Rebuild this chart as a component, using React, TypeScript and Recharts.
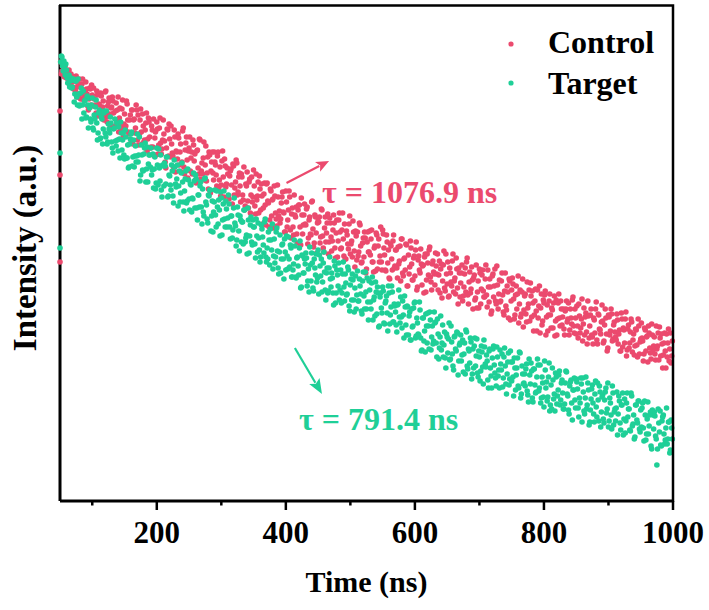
import React from 'react';
import { ScatterChart, Scatter, XAxis, YAxis, ReferenceLine, Legend } from 'recharts';

// Time bins (ns), odd channels
const timeNsA = [
  51,53,55,57,59,61,63,65,67,69,71,73,75,77,79,81,83,85,87,89,
  91,93,95,97,99,101,103,105,107,109,111,113,115,117,119,121,123,125,127,129,
  131,133,135,137,139,141,143,145,147,149,151,153,155,157,159,161,163,165,167,169,
  171,173,175,177,179,181,183,185,187,189,191,193,195,197,199,201,203,205,207,209,
  211,213,215,217,219,221,223,225,227,229,231,233,235,237,239,241,243,245,247,249,
  251,253,255,257,259,261,263,265,267,269,271,273,275,277,279,281,283,285,287,289,
  291,293,295,297,299,301,303,305,307,309,311,313,315,317,319,321,323,325,327,329,
  331,333,335,337,339,341,343,345,347,349,351,353,355,357,359,361,363,365,367,369,
  371,373,375,377,379,381,383,385,387,389,391,393,395,397,399,401,403,405,407,409,
  411,413,415,417,419,421,423,425,427,429,431,433,435,437,439,441,443,445,447,449,
  451,453,455,457,459,461,463,465,467,469,471,473,475,477,479,481,483,485,487,489,
  491,493,495,497,499,501,503,505,507,509,511,513,515,517,519,521,523,525,527,529,
  531,533,535,537,539,541,543,545,547,549,551,553,555,557,559,561,563,565,567,569,
  571,573,575,577,579,581,583,585,587,589,591,593,595,597,599,601,603,605,607,609,
  611,613,615,617,619,621,623,625,627,629,631,633,635,637,639,641,643,645,647,649,
  651,653,655,657,659,661,663,665,667,669,671,673,675,677,679,681,683,685,687,689,
  691,693,695,697,699,701,703,705,707,709,711,713,715,717,719,721,723,725,727,729,
  731,733,735,737,739,741,743,745,747,749,751,753,755,757,759,761,763,765,767,769,
  771,773,775,777,779,781,783,785,787,789,791,793,795,797,799,801,803,805,807,809,
  811,813,815,817,819,821,823,825,827,829,831,833,835,837,839,841,843,845,847,849,
  851,853,855,857,859,861,863,865,867,869,871,873,875,877,879,881,883,885,887,889,
  891,893,895,897,899,901,903,905,907,909,911,913,915,917,919,921,923,925,927,929,
  931,933,935,937,939,941,943,945,947,949,951,953,955,957,959,961,963,965,967,969,
  971,973,975,977,979,981,983,985,987,989,991,993,995,997,999,
];

// Time bins (ns), even channels
const timeNsB = [
  52,54,56,58,60,62,64,66,68,70,72,74,76,78,80,82,84,86,88,90,
  92,94,96,98,100,102,104,106,108,110,112,114,116,118,120,122,124,126,128,130,
  132,134,136,138,140,142,144,146,148,150,152,154,156,158,160,162,164,166,168,170,
  172,174,176,178,180,182,184,186,188,190,192,194,196,198,200,202,204,206,208,210,
  212,214,216,218,220,222,224,226,228,230,232,234,236,238,240,242,244,246,248,250,
  252,254,256,258,260,262,264,266,268,270,272,274,276,278,280,282,284,286,288,290,
  292,294,296,298,300,302,304,306,308,310,312,314,316,318,320,322,324,326,328,330,
  332,334,336,338,340,342,344,346,348,350,352,354,356,358,360,362,364,366,368,370,
  372,374,376,378,380,382,384,386,388,390,392,394,396,398,400,402,404,406,408,410,
  412,414,416,418,420,422,424,426,428,430,432,434,436,438,440,442,444,446,448,450,
  452,454,456,458,460,462,464,466,468,470,472,474,476,478,480,482,484,486,488,490,
  492,494,496,498,500,502,504,506,508,510,512,514,516,518,520,522,524,526,528,530,
  532,534,536,538,540,542,544,546,548,550,552,554,556,558,560,562,564,566,568,570,
  572,574,576,578,580,582,584,586,588,590,592,594,596,598,600,602,604,606,608,610,
  612,614,616,618,620,622,624,626,628,630,632,634,636,638,640,642,644,646,648,650,
  652,654,656,658,660,662,664,666,668,670,672,674,676,678,680,682,684,686,688,690,
  692,694,696,698,700,702,704,706,708,710,712,714,716,718,720,722,724,726,728,730,
  732,734,736,738,740,742,744,746,748,750,752,754,756,758,760,762,764,766,768,770,
  772,774,776,778,780,782,784,786,788,790,792,794,796,798,800,802,804,806,808,810,
  812,814,816,818,820,822,824,826,828,830,832,834,836,838,840,842,844,846,848,850,
  852,854,856,858,860,862,864,866,868,870,872,874,876,878,880,882,884,886,888,890,
  892,894,896,898,900,902,904,906,908,910,912,914,916,918,920,922,924,926,928,930,
  932,934,936,938,940,942,944,946,948,950,952,954,956,958,960,962,964,966,968,970,
  972,974,976,978,980,982,984,986,988,990,992,994,996,998,
];

// Control intensity (a.u., log display units), odd channels
const controlIntensityA = [
  439,430,438,424,429,423,428,416,427,419,412,420,425,414,404,417,407,422,401,409,
  412,395,402,412,416,395,402,395,410,385,396,408,386,400,388,410,379,399,387,393,
  404,388,375,398,391,369,393,375,401,377,373,400,381,367,386,391,357,382,373,391,
  386,367,392,357,375,361,378,350,383,364,354,371,382,363,346,372,356,383,347,361,
  367,339,353,371,377,344,357,345,371,329,349,367,336,357,339,373,327,358,341,350,
  364,343,327,356,347,318,351,327,361,330,327,359,336,320,344,349,308,339,328,349,
  336,315,349,321,305,340,324,342,314,333,305,325,332,297,335,313,341,306,324,315,
  327,306,334,295,315,300,319,288,324,304,315,287,301,319,325,291,305,293,318,276,
  318,298,281,310,301,273,305,282,316,285,278,298,309,288,269,299,281,310,271,287,
  274,306,284,267,291,296,256,286,276,297,276,294,263,284,266,300,254,286,268,278,
  279,258,292,265,249,284,268,287,259,278,250,271,278,243,281,260,288,252,271,262,
  277,242,266,252,285,257,244,269,234,265,269,249,276,238,258,244,263,232,269,249,
  246,271,239,253,230,266,255,239,274,231,267,246,230,259,251,222,255,231,266,235,
  251,223,237,255,262,228,242,231,256,215,227,260,237,221,245,251,211,241,231,252,
  216,236,244,209,247,226,254,219,237,229,216,235,247,226,208,237,220,250,210,227,
  239,205,228,215,247,220,207,232,197,228,218,236,205,227,209,243,197,229,212,221,
  223,201,236,209,193,228,212,231,204,222,206,231,199,214,190,227,215,200,235,192,
  221,200,228,189,210,195,215,183,220,200,223,202,186,215,207,178,211,187,222,191,
  207,179,193,211,218,184,198,186,212,170,183,215,193,176,201,206,166,196,186,207,
  173,191,198,165,201,182,207,175,192,184,172,190,200,182,166,192,177,204,168,183,
  195,163,185,173,202,177,166,188,157,185,175,192,164,183,168,199,157,186,171,179,
  180,160,192,167,153,184,170,187,162,179,164,187,157,171,150,182,173,158,189,151,
  176,158,182,149,167,155,171,144,175,159,178,160,147,171,164,139,168,148,177,151,
  164,141,152,168,174,145,157,146,168,133,144,172,152,138,160,
];

// Control intensity, even channels
const controlIntensityB = [
  427,435,429,435,423,426,431,419,425,414,423,410,404,417,422,402,417,407,403,419,
  407,391,413,396,406,413,396,388,406,397,391,405,394,381,409,384,395,403,375,394,
  400,373,390,380,404,383,372,392,364,387,375,397,369,381,361,391,381,368,396,361,
  356,381,369,387,359,371,388,362,379,353,375,354,345,369,379,347,373,358,352,381,
  360,333,372,345,362,375,348,334,364,350,342,363,349,329,370,334,351,364,323,353,
  330,349,361,340,321,350,333,362,322,338,343,321,355,328,312,346,330,349,321,339,
  326,345,313,334,316,350,304,335,317,327,302,330,316,337,306,319,338,309,328,299,
  324,301,291,317,329,293,322,306,299,331,295,327,305,288,312,317,277,307,296,317,
  300,274,312,285,302,315,288,275,304,290,282,304,289,269,310,274,291,304,263,293,
  266,286,294,258,296,274,303,267,286,277,292,257,281,267,299,272,258,284,248,280,
  284,264,291,253,273,259,278,247,283,264,260,286,253,268,244,281,269,253,288,245,
  242,270,257,277,247,260,280,250,270,241,245,278,255,239,263,269,228,259,249,270,
  262,239,229,255,268,232,262,245,239,271,253,231,266,238,223,257,242,260,233,251,
  233,254,240,220,262,225,243,257,215,246,234,253,221,243,225,259,214,245,228,237,
  235,208,247,221,238,251,224,211,240,227,248,227,211,240,232,203,236,213,247,217,
  204,233,219,240,209,223,243,213,233,204,228,200,214,233,239,206,219,208,234,192,
  226,203,193,220,232,197,226,210,204,236,194,214,222,187,225,204,232,197,216,207,
  199,220,206,186,228,191,209,222,181,211,217,182,206,192,225,197,184,209,174,205,
  187,219,197,180,205,210,170,200,190,211,195,168,207,180,198,210,184,170,200,186,
  193,173,205,180,166,198,183,200,176,192,166,192,179,198,171,183,201,175,192,167,
  175,197,168,182,160,193,184,169,200,163,186,166,157,181,192,161,187,172,167,196,
  158,176,183,150,186,166,192,160,176,169,161,181,167,150,188,154,171,182,145,172,
  153,169,179,161,146,172,156,182,147,162,163,140,173,150,165,175,153,142,166,155,
  147,175,155,141,163,167,133,158,150,167,158,140,168,145,
];

// Target intensity (a.u., log display units), odd channels
const targetIntensityA = [
  439,444,430,435,437,423,425,414,423,414,422,407,420,396,407,396,413,396,388,401,
  384,396,403,382,396,373,386,394,378,368,391,363,382,372,390,364,357,377,368,378,
  353,372,382,355,361,374,343,368,361,346,371,343,356,334,362,369,344,334,355,345,
  339,364,326,346,330,353,319,354,337,346,353,331,313,344,318,336,352,320,311,336,
  315,335,344,304,326,316,336,305,341,317,322,295,330,308,338,299,310,330,300,321,
  291,316,303,328,293,322,281,306,315,294,312,285,323,296,278,305,311,285,269,299,
  286,310,277,291,309,266,297,282,300,274,306,274,285,263,293,278,255,294,270,285,
  259,279,291,259,266,293,248,276,259,281,274,243,265,278,251,244,272,256,279,244,
  253,269,236,261,277,245,238,269,250,227,266,242,257,222,249,265,232,242,256,224,
  231,261,224,243,235,253,213,246,228,242,248,215,232,254,220,238,210,233,247,223,
  207,235,242,219,249,211,228,208,233,222,228,208,240,198,231,215,201,231,208,239,
  200,218,207,231,190,222,227,201,213,192,230,200,215,190,220,205,229,192,199,220,
  199,218,181,204,219,187,208,175,208,188,210,177,200,188,215,177,194,209,179,195,
  176,196,211,178,184,200,163,194,166,194,185,161,192,175,198,163,183,167,199,163,
  151,183,170,187,158,175,189,151,175,160,178,158,182,142,164,151,176,156,143,167,
  148,178,142,159,135,164,152,169,126,156,166,146,129,158,171,135,152,138,159,127,
  133,163,145,128,150,120,155,134,161,137,146,121,150,133,113,152,136,123,154,125,
  113,137,147,123,153,117,127,148,122,139,139,105,133,126,143,113,148,107,127,118,
  115,137,106,142,117,130,99,132,108,124,136,113,98,124,104,140,113,100,124,90,
  116,133,102,90,124,105,126,96,118,108,92,118,129,105,87,119,98,111,123,93,
  119,93,103,123,79,109,87,124,96,111,79,102,116,87,107,94,118,80,109,89,
  106,78,109,88,118,80,98,72,108,89,80,109,87,100,71,96,66,102,80,108,
  92,71,108,75,86,64,96,78,100,69,74,98,60,86,67,99,75,89,52,86,
  89,65,36,92,69,56,80,86,57,73,57,79,48,81,62,
];

// Target intensity, even channels
const targetIntensityB = [
  445,435,440,426,431,418,426,420,413,421,399,420,404,422,395,408,382,410,400,383,
  405,373,393,379,403,371,382,401,361,388,362,384,357,388,368,390,359,372,384,359,
  348,373,360,378,350,362,379,351,368,342,364,343,333,357,367,335,361,345,339,367,
  346,320,356,331,347,358,332,319,346,334,326,347,332,312,353,316,333,346,304,335,
  338,317,344,305,325,311,330,298,334,314,336,315,299,328,319,290,322,298,332,302,
  317,289,302,320,326,293,306,294,319,277,289,322,299,282,306,311,270,300,289,311,
  274,294,301,265,303,281,310,274,292,283,297,262,285,271,303,275,261,286,250,281,
  279,257,291,263,247,281,265,284,256,274,257,282,249,263,239,276,264,248,282,239,
  242,261,272,251,232,262,244,273,233,249,228,256,242,262,231,245,264,234,253,224,
  237,255,223,244,226,260,214,245,228,237,243,220,209,236,248,213,242,226,219,251,
  246,225,209,238,229,201,233,210,244,214,223,196,235,208,226,238,211,198,227,214,
  227,206,234,195,216,201,221,189,225,206,200,222,207,187,229,192,209,223,181,211,
  192,224,201,185,209,214,174,204,193,214,178,198,205,170,208,186,215,179,197,189,
  169,197,184,204,173,186,205,176,195,166,189,161,174,193,199,165,178,166,191,150,
  183,160,149,175,188,152,181,164,157,189,179,144,167,153,185,158,144,169,133,164,
  162,141,175,147,131,165,150,168,140,158,140,161,147,127,169,132,150,163,122,152,
  155,135,162,124,144,130,149,117,154,134,140,113,152,125,143,155,128,115,144,131,
  151,131,114,144,135,107,139,116,150,120,124,143,111,133,115,149,103,135,117,127,
  132,110,99,126,138,103,132,116,109,142,110,136,103,118,94,131,119,104,138,96,
  92,121,107,128,97,111,130,101,121,92,97,130,107,91,115,121,81,111,101,122,
  112,84,98,117,123,90,103,92,118,76,91,112,98,79,120,84,101,115,74,104,
  82,101,113,92,74,103,86,115,76,92,93,66,105,78,96,108,82,68,98,84,
  92,70,105,77,62,96,81,100,72,91,93,73,100,61,82,67,86,55,91,72,
  85,62,52,78,90,55,84,67,61,93,62,79,51,73,
];

// Early points sitting on the left axis
const controlEdgeTime = [50, 50, 50];
const controlEdge = [390, 326, 239];
const targetEdgeTime = [50, 50];
const targetEdge = [348, 253];

const xTicks = [100, 200, 300, 400, 500, 600, 700, 800, 900, 1000];
const xLabels = [200, 400, 600, 800, 1000];
const seriesNames = ['Control', 'Target'];
const lifetimeLabels = ['τ = 1076.9 ns', 'τ = 791.4 ns'];
// arrow segments in data coordinates [tail, tip]
const controlArrow = [{ x: 401, y: 318 }, { x: 467, y: 340 }];
const targetArrow = [{ x: 414, y: 153 }, { x: 456, y: 107 }];

const RED = '#EB4A6E';
const GREEN = '#1FCF97';
const FONT = '"Liberation Serif", "Times New Roman", Times, serif';

const controlData = [
  ...controlEdge.map((v, i) => ({ t: controlEdgeTime[i], v })),
  ...timeNsA.map((t, i) => ({ t, v: controlIntensityA[i] })),
  ...timeNsB.map((t, i) => ({ t, v: controlIntensityB[i] })),
];
const targetData = [
  ...targetEdge.map((v, i) => ({ t: targetEdgeTime[i], v })),
  ...timeNsA.map((t, i) => ({ t, v: targetIntensityA[i] })),
  ...timeNsB.map((t, i) => ({ t, v: targetIntensityB[i] })),
];

const dot = (color: string) => (p: any) => (
  <circle cx={p.cx} cy={p.cy} r={2.8} fill={color} />
);

const arrowShape = (color: string, headLen: number, headHalf: number) => (p: any) => {
  const { x1, y1, x2, y2 } = p;
  const dx = x2 - x1;
  const dy = y2 - y1;
  const len = Math.hypot(dx, dy) || 1;
  const ux = dx / len;
  const uy = dy / len;
  const bx = x2 - ux * headLen;
  const by = y2 - uy * headLen;
  const nx = -uy * headHalf;
  const ny = ux * headHalf;
  return (
    <g>
      <line x1={x1} y1={y1} x2={bx + ux * 2} y2={by + uy * 2} stroke={color} strokeWidth={2.2} />
      <polygon
        points={`${x2},${y2} ${bx + nx},${by + ny} ${bx + ux * 3},${by + uy * 3} ${bx - nx},${by - ny}`}
        fill={color}
      />
    </g>
  );
};

const XTick = (props: any) => {
  const { x, y, payload } = props;
  const major = xLabels.includes(payload.value);
  return (
    <g>
      <line x1={x} x2={x} y1={y} y2={y + (major ? 9 : 4.5)} stroke="#000" strokeWidth={2.5} />
      {major && (
        <text
          x={x}
          y={y + 42}
          textAnchor="middle"
          fontFamily={FONT}
          fontWeight="bold"
          fontSize={31}
          fill="#000"
        >
          {payload.value}
        </text>
      )}
    </g>
  );
};

const legendRows = [
  { dotY: 24, textY: 33, color: RED },
  { dotY: 63, textY: 74, color: GREEN },
];

const LegendContent = () => (
  <svg width={180} height={90} style={{ overflow: 'visible' }}>
    {seriesNames.map((name, i) => (
      <g key={name}>
        <circle cx={11} cy={legendRows[i].dotY} r={2.6} fill={legendRows[i].color} />
        <text
          x={48}
          y={legendRows[i].textY}
          fontFamily={FONT}
          fontWeight="bold"
          fontSize={32}
          fill="#000"
        >
          {name}
        </text>
      </g>
    ))}
  </svg>
);

export default function App() {
  return (
    <div style={{ position: 'absolute', left: 0, top: 0, width: 709, height: 610, background: '#fff' }}>
      <ScatterChart width={709} height={610} margin={{ top: 5, right: 36, left: 0, bottom: 0 }}>
        <XAxis
          dataKey="t"
          type="number"
          domain={[50, 1000]}
          ticks={xTicks}
          interval={0}
          height={109}
          tickSize={0}
          tickMargin={0}
          tickLine={false}
          axisLine={{ stroke: '#000', strokeWidth: 3 }}
          tick={<XTick />}
        />
        <YAxis
          dataKey="v"
          type="number"
          domain={[0, 496]}
          width={60}
          tick={false}
          tickLine={false}
          axisLine={{ stroke: '#000', strokeWidth: 3 }}
        />
        <Legend
          layout="vertical"
          align="center"
          verticalAlign="middle"
          wrapperStyle={{ position: 'absolute', left: 500, top: 20, width: 180, height: 90 }}
          content={<LegendContent />}
        />
        <Scatter
          name={seriesNames[0]}
          data={controlData}
          dataKey="v"
          fill={RED}
          shape={dot(RED)}
          isAnimationActive={false}
        />
        <Scatter
          name={seriesNames[1]}
          data={targetData}
          dataKey="v"
          fill={GREEN}
          shape={dot(GREEN)}
          isAnimationActive={false}
        />
        <ReferenceLine segment={controlArrow} ifOverflow="visible" shape={arrowShape(RED, 13, 5.5)} />
        <ReferenceLine segment={targetArrow} ifOverflow="visible" shape={arrowShape(GREEN, 15, 6)} />
      </ScatterChart>
      <svg
        width={709}
        height={610}
        viewBox="0 0 709 610"
        style={{ position: 'absolute', left: 0, top: 0, pointerEvents: 'none', zIndex: 5 }}
      >
        {/* frame: top and right borders */}
        <path d="M 59 5.5 L 673 5.5 L 673 502" fill="none" stroke="#000000" strokeWidth={2.5} />
        <text x={366.5} y={592} textAnchor="middle" fontFamily={FONT} fontWeight="bold" fontSize={30} fill="#000">
          Time (ns)
        </text>
        <text
          transform="translate(36,248) rotate(-90)"
          textAnchor="middle"
          fontFamily={FONT}
          fontWeight="bold"
          fontSize={33}
          fill="#000"
        >
          Intensity (a.u.)
        </text>
        <text x={322} y={203} fontFamily={FONT} fontWeight="bold" fontSize={32} fill={RED}>
          {lifetimeLabels[0]}
        </text>
        <text x={299} y={430} fontFamily={FONT} fontWeight="bold" fontSize={32} fill={GREEN}>
          {lifetimeLabels[1]}
        </text>
      </svg>
    </div>
  );
}
